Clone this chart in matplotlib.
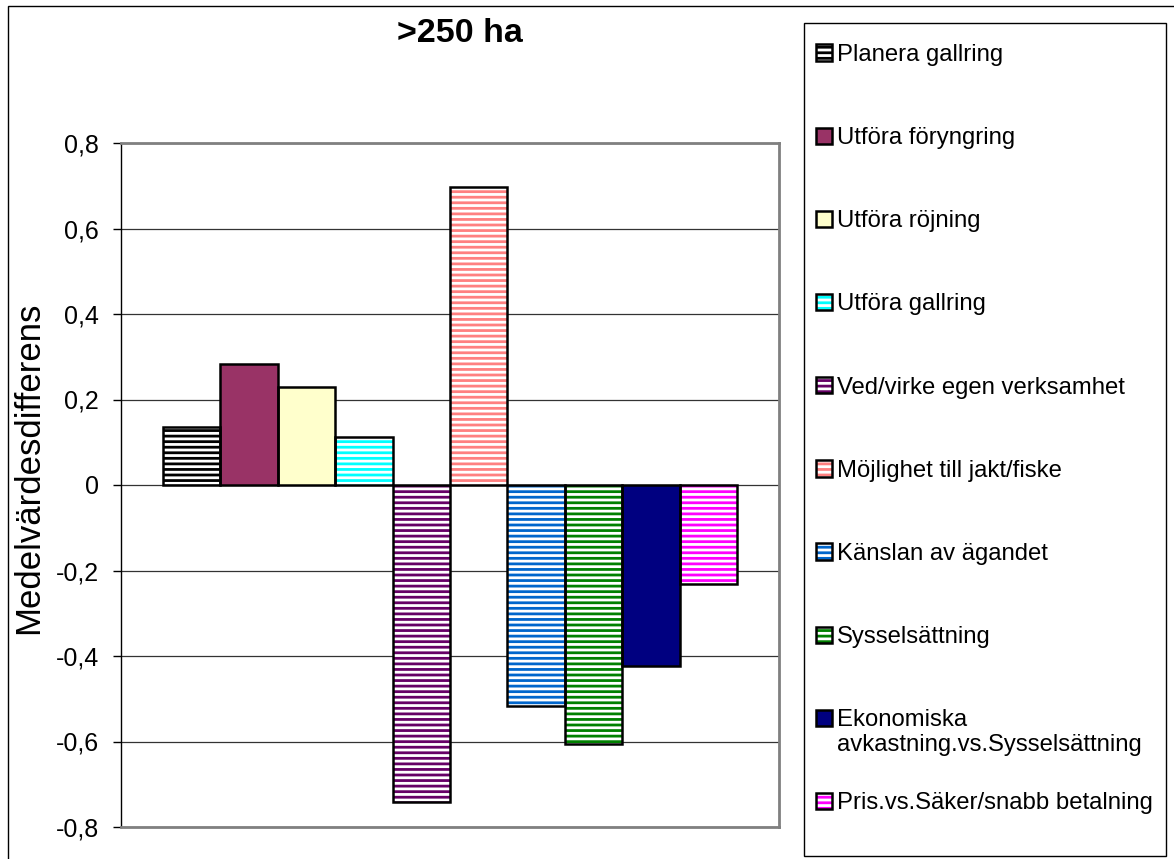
import numpy as np
import matplotlib.pyplot as plt
from matplotlib.patches import Rectangle, Patch
from matplotlib.legend_handler import HandlerTuple

plt.rcParams['font.family'] = ['Liberation Sans', 'DejaVu Sans']
plt.rcParams['hatch.linewidth'] = 2.0

# Medelvärdesdifferens per motiv, gruppen >250 ha
labels = ["Planera gallring", "Utföra föryngring", "Utföra röjning", "Utföra gallring",
          "Ved/virke egen verksamhet", "Möjlighet till jakt/fiske", "Känslan av ägandet",
          "Sysselsättning", "Ekonomiska\navkastning.vs.Sysselsättning",
          "Pris.vs.Säker/snabb betalning"]
values = [0.135, 0.283, 0.229, 0.112, -0.742, 0.696, -0.518, -0.606, -0.424, -0.232]
colors = ["#000000", "#993366", "#FFFFCC", "#00FFFF", "#660066", "#FF8080",
          "#0066CC", "#008000", "#000080", "#FF00FF"]
striped = [True, False, False, True, True, True, True, True, False, True]
yticks = [-0.8, -0.6, -0.4, -0.2, 0, 0.2, 0.4, 0.6, 0.8]
ytick_labels = ["-0,8", "-0,6", "-0,4", "-0,2", "0", "0,2", "0,4", "0,6", "0,8"]

W, H = 1174, 859
fig = plt.figure(figsize=(W / 100, H / 100), dpi=100)

# outer chart border (only top/left visible)
fig.patches.append(Rectangle((8 / W, -0.1), 1.2, 1.1 - 6 / H, transform=fig.transFigure,
                             fill=False, edgecolor="black", linewidth=1.0))

ax = fig.add_axes([121 / W, 1 - 827 / H, 658 / W, 684 / H])

x = np.arange(len(values))
handles = []
for i, (v, c, s) in enumerate(zip(values, colors, striped)):
    if s:
        ax.bar(x[i], v, width=1.0, color="white", edgecolor=c, hatch="---",
               linewidth=0, zorder=3)
        h_fill = Patch(facecolor="white", edgecolor=c, hatch="---", linewidth=0)
    else:
        ax.bar(x[i], v, width=1.0, color=c, linewidth=0, zorder=3)
        h_fill = Patch(facecolor=c, linewidth=0)
    # black outline on top of the fill
    ax.bar(x[i], v, width=1.0, fill=False, edgecolor="black", linewidth=1.8, zorder=4)
    h_edge = Patch(fill=False, edgecolor="black", linewidth=1.8)
    handles.append((h_fill, h_edge))

ax.set_xlim(-1.232, 10.232)
ax.set_ylim(-0.8, 0.8)
ax.set_yticks(yticks)
ax.set_yticklabels(ytick_labels, fontsize=18)
ax.set_xticks([])
ax.tick_params(axis="y", direction="out", length=6, width=1, pad=10)
ax.yaxis.grid(True, color="#333333", linewidth=0.9, zorder=0)
ax.set_axisbelow(True)
for side in ["top", "right", "bottom"]:
    ax.spines[side].set_color("#808080")
    ax.spines[side].set_linewidth(2)
ax.spines["left"].set_color("black")
ax.spines["left"].set_linewidth(1)

ax.set_ylabel("Medelvärdesdifferens", fontsize=25)
ax.yaxis.set_label_coords(-0.1155, 0.525)
fig.text(460 / W, 1 - 34 / H, ">250 ha", fontsize=24.5, fontweight="bold",
         ha="center", va="center")

# legend box
fig.patches.append(Rectangle((804 / W, 1 - 856 / H), 362 / W, 833 / H,
                             transform=fig.transFigure, fill=False,
                             edgecolor="black", linewidth=1.0))

# legend rows keep the marker on the first line; wrapped lines go underneath
first_lines = [lab.split("\n")[0] for lab in labels]
leg = fig.legend(handles, first_lines, handler_map={tuple: HandlerTuple(ndivide=1, pad=0)},
                 loc="upper left", bbox_to_anchor=(816 / W, 1 - 44 / H), frameon=False,
                 fontsize=17.2, handlelength=0.68, handleheight=0.68, handletextpad=0.2,
                 labelspacing=2.56, borderpad=0, borderaxespad=0)
fig.canvas.draw()
renderer = fig.canvas.get_renderer()
for lab, txt in zip(labels, leg.get_texts()):
    extra = lab.split("\n")[1:]
    if extra:
        bb = txt.get_window_extent(renderer)
        for k, line in enumerate(extra, start=1):
            fig.text(bb.x0 / W, (bb.y1 - 25 * k) / H, line, fontsize=17.2,
                     ha="left", va="top")

fig.savefig("out.png", dpi=100)
